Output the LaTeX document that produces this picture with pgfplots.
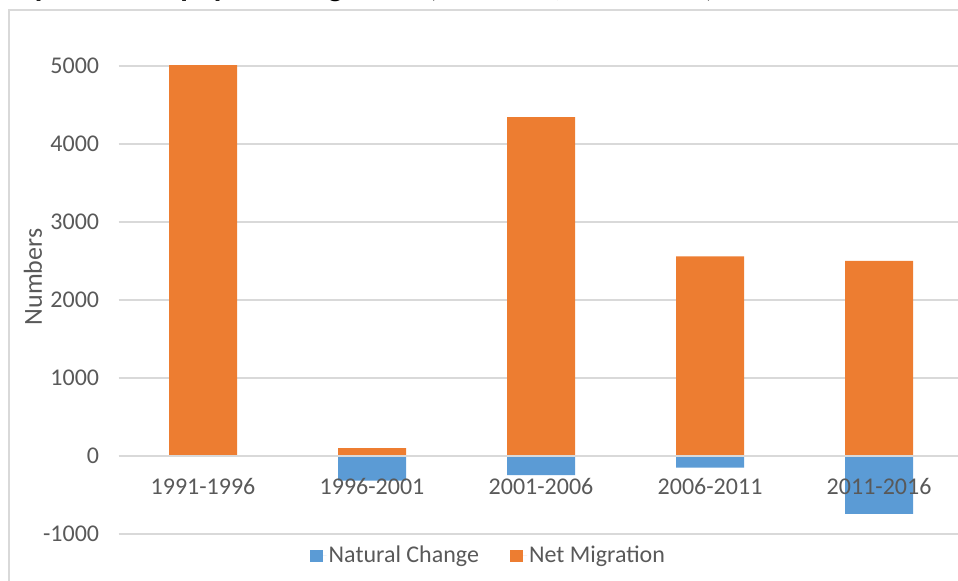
\documentclass[border=0pt]{standalone}
\usepackage{pgfplots}
\pgfplotsset{compat=1.18}
\usepackage{pgfplotstable}
\usepackage{fontspec}
\setmainfont{Carlito}

\definecolor{ncblue}{HTML}{5B9BD5}
\definecolor{nmorange}{HTML}{ED7D31}
\definecolor{txtgray}{HTML}{595959}
\definecolor{gridgray}{HTML}{D9D9D9}

\tikzset{cat/.style={anchor=base, inner sep=0pt, yshift=19.75pt,
    font=\fontsize{12pt}{14pt}\selectfont, text=txtgray}}

% Components of population change per census period
\pgfplotstableread{
x natural migration
0 0 5010
1 -315 100
2 -246 4345
3 -150 2560
4 -742 2500
}\growth

\begin{document}
\begin{tikzpicture}
\begin{axis}[
  at={(59.25pt,23.5pt)}, anchor=south west,
  scale only axis, width=419.75pt, height=234pt,
  xmin=-0.5, xmax=4.467, ymin=-1000, ymax=5000,
  enlargelimits=false,
  axis line style={draw=none},
  tick style={draw=none},
  major tick length=0pt,
  ymajorgrids,
  grid style={gridgray, line width=1pt},
  ytick={-1000,0,1000,2000,3000,4000,5000},
  xtick=\empty,
  /pgf/number format/assume math mode=true,
  /pgf/number format/1000 sep={},
  tick label style={font=\fontsize{12pt}{14pt}\selectfont, text=txtgray},
  y tick label style={anchor=east, inner sep=0pt, xshift=-9.5pt},
  ylabel={Numbers},
  every axis y label/.style={at={(rel axis cs:0,0.549)}, xshift=-42.75pt,
    rotate=90, anchor=center,
    font=\fontsize{13pt}{15pt}\selectfont, text=txtgray},
  legend columns=2,
  legend style={draw=none, fill=none, at={(0.4405,-0.047)}, anchor=center,
    font=\fontsize{12pt}{14pt}\selectfont, text=txtgray,
    nodes={inner sep=1pt},
    /tikz/every even column/.append style={column sep=14.5pt}},
  legend image code/.code={\fill[#1] (-0.5pt,-3pt) rectangle (6pt,3pt);
    \path (0pt,0pt) -- (8pt,0pt);},
]
\addplot[ybar, bar width=34pt, bar shift=0pt, fill=ncblue, draw=none]
  table[x=x, y=natural] {\growth};
\addlegendentry{Natural Change}
\addplot[ybar, bar width=34pt, bar shift=0pt, fill=nmorange, draw=none]
  table[x=x, y=migration] {\growth};
\addlegendentry{Net Migration}
% zero gridline shows through between the stacked parts
\draw[gridgray, line width=1pt] (axis cs:-0.5,0) -- (axis cs:4.5,0);
% category labels, set over the bars
\node[cat] at (axis cs:0,-1000) {1991-1996};
\node[cat] at (axis cs:1,-1000) {1996-2001};
\node[cat] at (axis cs:2,-1000) {2001-2006};
\node[cat] at (axis cs:3,-1000) {2006-2011};
\node[cat] at (axis cs:4,-1000) {2011-2016};
\end{axis}
\begin{scope}
\clip (0,0) rectangle (479pt,290.5pt);
% chart frame
\draw[gridgray, line width=1pt] (4.5pt,-5pt) -- (4.5pt,285.5pt) -- (490pt,285.5pt);
% chart title
\node[anchor=base east, inner sep=0pt, font=\fontsize{15.5pt}{18pt}\selectfont\bfseries]
  at (357.5pt,292.2pt) {Figure 6: Components of population growth (Numbers, 1991-2016)};
\end{scope}
\pgfresetboundingbox
\useasboundingbox (0,0) rectangle (479pt,290.5pt);
\end{tikzpicture}
\end{document}
